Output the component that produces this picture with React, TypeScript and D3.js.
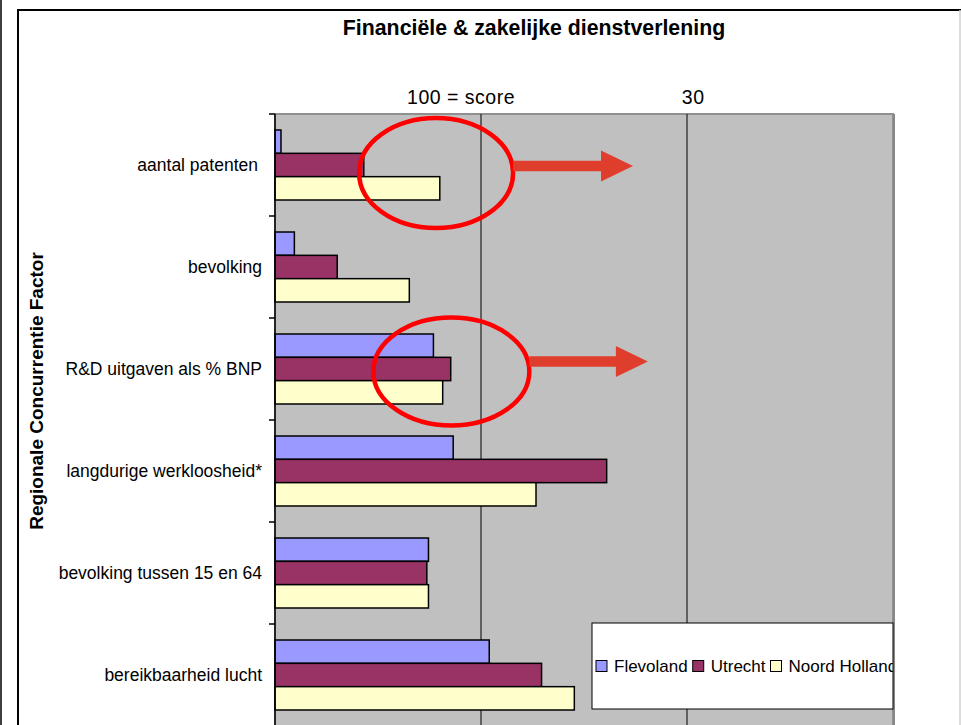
import React, { useEffect, useRef } from "react";
import * as d3 from "d3";

const categories = [
  "aantal patenten",
  "bevolking",
  "R&D uitgaven als % BNP",
  "langdurige werkloosheid*",
  "bevolking tussen 15 en 64",
  "bereikbaarheid lucht",
];
const seriesNames = ["Flevoland", "Utrecht", "Noord Holland"];
const flevoland = [2.9, 9.4, 76.9, 86.5, 74.5, 104.0];
const utrecht = [43.1, 30.2, 85.3, 161.0, 73.7, 129.4];
const noordHolland = [80.0, 65.2, 81.4, 126.7, 74.5, 145.3];
const seriesColors = ["#9999FF", "#993366", "#FFFFCC"];
const xDomain = [0, 300];
const gridValues = [100, 200];
const topLabels = [
  { text: "100 = score", value: 90.3 },
  { text: "30", value: 203 },
];
const highlights = [
  { category: "aantal patenten", value: 78.2, dy: 8, rx: 77, ry: 55, arrowTo: 173.8, arrowDy: 1 },
  { category: "R&D uitgaven als % BNP", value: 85.6, dy: 2.5, rx: 78, ry: 54, arrowTo: 181, arrowDy: -7.5 },
];
const title = "Financiële & zakelijke dienstverlening";
const yTitle = "Regionale Concurrentie Factor";

const W = 961;
const H = 725;

export default function App() {
  const ref = useRef<SVGSVGElement | null>(null);

  useEffect(() => {
    const svg = d3.select(ref.current);
    svg.selectAll("*").remove();
    const font = "'Liberation Sans', Arial, sans-serif";

    const values = [flevoland, utrecht, noordHolland];
    const data = categories.map((c, i) => ({
      category: c,
      vals: seriesNames.map((s, j) => ({ series: s, value: values[j][i], color: seriesColors[j] })),
    }));

    const plot = { left: 275, right: 893, top: 114, bottom: 726 };
    const x = d3.scaleLinear().domain(xDomain).range([plot.left, plot.right]);
    const y = d3.scaleBand().domain(categories).range([plot.top, plot.bottom]).paddingInner(0).paddingOuter(0);
    const ySub = d3.scaleBand().domain(seriesNames).range([0, y.bandwidth()]).paddingInner(0).paddingOuter(0.686);

    // page frame
    svg.append("line").attr("x1", 1).attr("x2", 1).attr("y1", 0).attr("y2", H).attr("stroke", "#000").attr("stroke-width", 1.5);
    svg.append("path").attr("d", `M18,${H} L18,10 L${W},10`).attr("fill", "none").attr("stroke", "#000").attr("stroke-width", 2);
    svg.append("line").attr("x1", 960).attr("x2", 960).attr("y1", 10).attr("y2", H).attr("stroke", "#d0d0d0").attr("stroke-width", 1.5);

    // title
    svg.append("text").attr("x", 534).attr("y", 35).attr("text-anchor", "middle")
      .attr("font-family", font).attr("font-weight", "bold").attr("font-size", 21.3).text(title);

    // plot area
    svg.append("rect").attr("x", plot.left).attr("y", plot.top)
      .attr("width", plot.right - plot.left).attr("height", plot.bottom - plot.top)
      .attr("fill", "#C0C0C0").attr("stroke", "#909090").attr("stroke-width", 2);
    svg.append("line").attr("x1", plot.right + 1).attr("x2", plot.right + 1).attr("y1", plot.top).attr("y2", plot.bottom)
      .attr("stroke", "#888").attr("stroke-width", 2);

    // gridlines
    svg.append("g").selectAll("line").data(gridValues).join("line")
      .attr("x1", (d) => x(d)).attr("x2", (d) => x(d)).attr("y1", plot.top).attr("y2", plot.bottom)
      .attr("stroke", "#000").attr("stroke-width", 1);

    // top labels
    svg.append("g").selectAll("text").data(topLabels).join("text")
      .attr("x", (d) => x(d.value)).attr("y", 104).attr("text-anchor", "middle")
      .attr("font-family", font).attr("font-size", 19.5).attr("letter-spacing", 0.5).text((d) => d.text);

    // bars
    const groups = svg.append("g").selectAll("g").data(data).join("g")
      .attr("transform", (d) => `translate(0,${y(d.category)})`);
    groups.selectAll("rect").data((d) => d.vals).join("rect")
      .attr("x", x(0)).attr("y", (d) => ySub(d.series)!)
      .attr("width", (d) => x(d.value) - x(0)).attr("height", ySub.bandwidth())
      .attr("fill", (d) => d.color).attr("stroke", "#000").attr("stroke-width", 1.5);

    // y axis
    svg.append("line").attr("x1", plot.left).attr("x2", plot.left).attr("y1", plot.top).attr("y2", plot.bottom)
      .attr("stroke", "#000").attr("stroke-width", 1.5);
    const tickYs = categories.map((c) => y(c)!);
    svg.append("g").selectAll("line").data(tickYs).join("line")
      .attr("x1", plot.left - 6).attr("x2", plot.left).attr("y1", (d) => d).attr("y2", (d) => d)
      .attr("stroke", "#000").attr("stroke-width", 1.5);
    svg.append("g").selectAll("text").data(categories).join("text")
      .attr("x", (d, i) => (i === 0 ? 258 : 262)).attr("y", (d) => y(d)! + y.bandwidth() / 2).attr("dy", "0.35em")
      .attr("text-anchor", "end").attr("font-family", font).attr("font-size", 17.5)
      .text((d) => d);

    // y title
    svg.append("text").attr("transform", `translate(43,391) rotate(-90)`).attr("text-anchor", "middle")
      .attr("font-family", font).attr("font-weight", "bold").attr("font-size", 19).text(yTitle);

    // highlight annotations
    const ann = svg.append("g");
    highlights.forEach((h) => {
      const cy = y(h.category)! + y.bandwidth() / 2;
      const cx = x(h.value);
      ann.append("ellipse").attr("cx", cx).attr("cy", cy + h.dy).attr("rx", h.rx).attr("ry", h.ry)
        .attr("fill", "none").attr("stroke", "#FF0000").attr("stroke-width", 4.5);
      const ay = cy + h.arrowDy;
      const x0 = cx + h.rx;
      const tip = x(h.arrowTo);
      const headLen = 32;
      const sh = 5.3;
      const hh = 15.5;
      const p = d3.path();
      p.moveTo(x0, ay - sh);
      p.lineTo(tip - headLen, ay - sh);
      p.lineTo(tip - headLen, ay - hh);
      p.lineTo(tip, ay);
      p.lineTo(tip - headLen, ay + hh);
      p.lineTo(tip - headLen, ay + sh);
      p.lineTo(x0, ay + sh);
      p.closePath();
      ann.append("path").attr("d", p.toString()).attr("fill", "#E03E2D");
    });

    // legend
    const lg = { x: 592, y: 623, w: 301, h: 86 };
    svg.append("clipPath").attr("id", "legclip").append("rect")
      .attr("x", lg.x).attr("y", lg.y).attr("width", lg.w).attr("height", lg.h);
    svg.append("rect").attr("x", lg.x).attr("y", lg.y).attr("width", lg.w).attr("height", lg.h)
      .attr("fill", "#fff").attr("stroke", "#000").attr("stroke-width", 1);
    const legG = svg.append("g").attr("clip-path", "url(#legclip)");
    let cx = 596;
    const ly = 666;
    seriesNames.forEach((s, i) => {
      legG.append("rect").attr("x", cx).attr("y", ly - 5.5).attr("width", 11).attr("height", 11)
        .attr("fill", seriesColors[i]).attr("stroke", "#000").attr("stroke-width", 1);
      const t = legG.append("text").attr("x", cx + 18).attr("y", ly).attr("dy", "0.35em")
        .attr("font-family", font).attr("font-size", 17).text(s);
      const w = (t.node() as SVGTextElement).getComputedTextLength();
      cx = cx + 18 + w + 5;
    });
  }, []);

  return (
    <svg
      ref={ref}
      width={W}
      height={H}
      style={{ position: "absolute", left: 0, top: 0, display: "block", background: "#fff" }}
    />
  );
}
